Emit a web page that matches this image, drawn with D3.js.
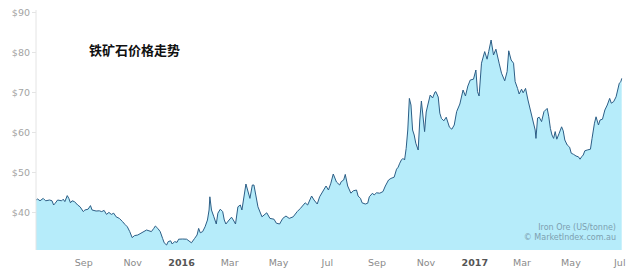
<!DOCTYPE html>
<html>
<head>
<meta charset="utf-8">
<script src="https://cdn.jsdelivr.net/npm/d3@7"></script>
<style>
  html, body { margin: 0; padding: 0; background: #fff; }
  svg { display: block; }
</style>
</head>
<body>
<svg id="chart" width="640" height="272"></svg>
<script>
// ---- data ----
const dates = [
"2015-07-04","2015-07-06","2015-07-09","2015-07-13","2015-07-16","2015-07-21","2015-07-24","2015-07-26","2015-07-28","2015-07-31",
"2015-08-05","2015-08-07","2015-08-09","2015-08-12","2015-08-14","2015-08-16","2015-08-18","2015-08-21","2015-08-25","2015-08-28",
"2015-09-01","2015-09-03","2015-09-07","2015-09-10","2015-09-12","2015-09-17","2015-09-21","2015-09-24","2015-09-27","2015-09-30",
"2015-10-03","2015-10-06","2015-10-09","2015-10-12","2015-10-16","2015-10-20","2015-10-23","2015-10-26","2015-10-29","2015-11-01",
"2015-11-04","2015-11-08","2015-11-12","2015-11-19","2015-11-22","2015-11-25","2015-11-28","2015-11-30","2015-12-03","2015-12-06",
"2015-12-09","2015-12-11","2015-12-14","2015-12-16","2015-12-19","2015-12-21","2015-12-24","2015-12-27","2015-12-29","2016-01-03",
"2016-01-08","2016-01-11","2016-01-14","2016-01-18","2016-01-21","2016-01-23","2016-01-25","2016-01-28","2016-01-31","2016-02-03",
"2016-02-05","2016-02-06","2016-02-08","2016-02-11","2016-02-14","2016-02-16","2016-02-19","2016-02-22","2016-02-24","2016-02-26",
"2016-03-01","2016-03-04","2016-03-07","2016-03-09","2016-03-12","2016-03-15","2016-03-17","2016-03-22","2016-03-27","2016-03-30",
"2016-04-01","2016-04-06","2016-04-11","2016-04-17","2016-04-21","2016-04-26","2016-04-29","2016-05-03","2016-05-07","2016-05-11",
"2016-05-15","2016-05-20","2016-05-25","2016-05-29","2016-06-04","2016-06-07","2016-06-12","2016-06-15","2016-06-19","2016-06-22",
"2016-06-27","2016-06-30","2016-07-03","2016-07-06","2016-07-09","2016-07-13","2016-07-17","2016-07-19","2016-07-22","2016-07-24",
"2016-07-27","2016-07-31","2016-08-03","2016-08-07","2016-08-09","2016-08-12","2016-08-14","2016-08-18","2016-08-21","2016-08-23",
"2016-08-27","2016-08-29","2016-09-01","2016-09-05","2016-09-09","2016-09-12","2016-09-16","2016-09-19","2016-09-23","2016-09-26",
"2016-09-28","2016-09-30","2016-10-02","2016-10-04","2016-10-06","2016-10-08","2016-10-10","2016-10-12","2016-10-14","2016-10-16",
"2016-10-18","2016-10-20","2016-10-23","2016-10-25","2016-10-27","2016-10-31","2016-11-02","2016-11-04","2016-11-07","2016-11-10",
"2016-11-13","2016-11-14","2016-11-17","2016-11-19","2016-11-21","2016-11-24","2016-11-27","2016-12-01","2016-12-04","2016-12-07",
"2016-12-10","2016-12-14","2016-12-18","2016-12-21","2016-12-24","2016-12-27","2016-12-31","2017-01-03","2017-01-05","2017-01-07",
"2017-01-10","2017-01-14","2017-01-17","2017-01-19","2017-01-22","2017-01-25","2017-01-28","2017-02-01","2017-02-04","2017-02-08",
"2017-02-11","2017-02-13","2017-02-16","2017-02-19","2017-02-21","2017-02-24","2017-02-26","2017-03-01","2017-03-03","2017-03-06",
"2017-03-09","2017-03-12","2017-03-15","2017-03-18","2017-03-19","2017-03-21","2017-03-23","2017-03-26","2017-03-29","2017-04-02",
"2017-04-04","2017-04-06","2017-04-08","2017-04-10","2017-04-12","2017-04-14","2017-04-17","2017-04-20","2017-04-22","2017-04-24",
"2017-04-27","2017-04-30","2017-05-02","2017-05-05","2017-05-08","2017-05-11","2017-05-13","2017-05-15","2017-05-17","2017-05-19",
"2017-05-22","2017-05-26","2017-05-28","2017-05-31","2017-06-02","2017-06-05","2017-06-07","2017-06-10","2017-06-13","2017-06-16",
"2017-06-19","2017-06-21","2017-06-24","2017-06-27","2017-06-29","2017-07-01","2017-07-03","2017-07-04"
];
const prices = [
43.0,43.25,42.8,43.4,42.8,43.0,42.8,41.75,42.2,43.0,
42.8,43.2,42.6,44.1,43.4,42.3,42.8,42.6,41.75,41.3,
40.1,40.5,40.7,41.6,40.5,40.25,40.3,40.1,40.4,39.4,
39.9,39.4,39.7,38.8,38.4,37.6,36.9,36.3,35.1,33.6,
34.1,34.25,34.7,35.5,35.3,35.1,35.9,36.5,35.9,35.1,
33.4,32.3,31.75,32.6,32.8,32.0,32.6,32.4,33.2,33.25,
33.2,32.75,32.3,33.4,34.25,35.9,34.8,35.1,36.3,38.0,
40.5,43.8,40.5,38.8,37.0,39.7,40.7,40.1,38.0,37.0,
38.0,38.7,37.75,37.0,41.3,41.75,40.5,47.0,43.4,46.75,
46.75,41.3,38.8,39.8,38.4,38.2,37.2,37.0,38.4,39.0,
38.4,38.8,40.1,40.9,42.3,41.75,44.0,43.0,42.0,43.8,
45.5,46.5,45.5,47.2,49.5,47.5,46.75,47.6,48.0,49.4,
46.5,44.7,45.3,45.5,44.0,43.4,42.3,42.0,42.2,43.8,
44.7,44.25,44.8,44.7,45.1,46.5,48.0,48.4,48.7,50.7,
51.2,52.2,53.0,53.4,53.0,55.9,60.5,68.4,66.75,60.5,
59.25,57.2,55.5,63.0,67.75,60.1,65.0,66.75,69.25,68.5,
70.0,70.1,68.75,64.7,63.4,62.8,63.7,61.2,60.7,61.75,
65.1,67.0,70.5,69.0,71.5,73.0,73.2,75.5,70.1,69.0,
77.2,80.1,78.2,80.1,83.0,79.25,80.7,77.2,74.7,72.8,
75.1,80.3,78.0,77.2,72.6,70.9,69.5,70.7,69.8,70.9,
68.0,65.5,63.0,60.5,58.4,63.5,63.7,62.6,65.1,65.9,
63.8,60.9,59.25,58.4,60.1,58.2,59.7,61.3,60.3,58.0,
56.75,56.2,54.7,54.4,54.0,53.8,53.2,53.8,54.25,55.3,
55.5,55.7,58.4,62.2,63.8,61.75,63.0,63.2,65.5,66.75,
68.4,67.2,67.6,68.8,70.5,72.2,72.6,73.4
];
const xTickDates = ["2015-09-01","2015-11-01","2016-01-01","2016-03-01","2016-05-01","2016-07-01",
                    "2016-09-01","2016-11-01","2017-01-01","2017-03-01","2017-05-01","2017-07-01"];
const xTickLabels = ["Sep","Nov","2016","Mar","May","Jul","Sep","Nov","2017","Mar","May","Jul"];
const yTickValues = [40,50,60,70,80,90];
const yTickLabels = ["$40","$50","$60","$70","$80","$90"];
const titleText = "铁矿石价格走势";
const sourceLines = ["Iron Ore (US/tonne)","© MarketIndex.com.au"];

// ---- drawing ----
(function () {
  const parse = d3.timeParse("%Y-%m-%d");
  const data = dates.map((d, i) => ({ date: parse(d), value: prices[i] }));

  const svg = d3.select("#chart");
  const plotLeft = 36, plotRight = 621.7, plotTop = 12, plotBottom = 250;

  const x = d3.scaleTime()
    .domain([parse("2015-07-04"), parse("2017-07-04")])
    .range([plotLeft, plotRight]);
  const y = d3.scaleLinear()
    .domain([30.5, 90])
    .range([plotBottom, plotTop]);

  const area = d3.area().x(d => x(d.date)).y0(plotBottom).y1(d => y(d.value));
  const line = d3.line().x(d => x(d.date)).y(d => y(d.value));

  svg.append("path").datum(data)
    .attr("d", area)
    .attr("fill", "#b6ecfa");

  svg.append("path").datum(data)
    .attr("d", line)
    .attr("fill", "none")
    .attr("stroke", "#2c5e86")
    .attr("stroke-width", 1)
    .attr("stroke-linejoin", "round");

  // y axis
  const yAxis = d3.axisLeft(y)
    .tickValues(yTickValues)
    .tickFormat((d, i) => yTickLabels[i])
    .tickSize(4)
    .tickPadding(2);
  const gy = svg.append("g").attr("transform", `translate(${plotLeft},0)`).call(yAxis);
  gy.select(".domain").attr("stroke", "#e4e4e4").attr("d", `M0,${plotTop - 2}V${plotBottom}`);
  gy.selectAll(".tick line").attr("stroke", "#e4e4e4");
  gy.selectAll(".tick text")
    .attr("fill", "#a3a3a3")
    .style("font-family", "'DejaVu Sans', sans-serif")
    .style("font-size", "9.5px");

  // x axis
  const isYear = i => /^\d{4}$/.test(xTickLabels[i]);
  const xAxis = d3.axisBottom(x)
    .tickValues(xTickDates.map(parse))
    .tickFormat((d, i) => xTickLabels[i])
    .tickSize(0)
    .tickPadding(9);
  const gx = svg.append("g").attr("transform", `translate(0,${plotBottom})`).call(xAxis);
  gx.select(".domain").remove();
  gx.selectAll(".tick text")
    .attr("fill", (d, i) => isYear(i) ? "#555" : "#8a8a8a")
    .style("font-weight", (d, i) => isYear(i) ? "bold" : "normal")
    .style("font-family", "'DejaVu Sans', sans-serif")
    .style("font-size", "9.5px");

  // title
  svg.append("text")
    .attr("x", 89).attr("y", 55)
    .text(titleText)
    .attr("fill", "#111")
    .style("font-family", "'Noto Sans CJK SC', sans-serif")
    .style("font-weight", "bold")
    .style("font-size", "13px");

  // source watermark
  svg.selectAll("text.src").data(sourceLines).enter().append("text")
    .attr("class", "src")
    .attr("x", 616)
    .attr("y", (d, i) => 230 + i * 10)
    .attr("text-anchor", "end")
    .text(d => d)
    .attr("fill", "#7d9fb0")
    .style("font-family", "'DejaVu Sans', sans-serif")
    .style("font-size", "8px");
})();
</script>
</body>
</html>
